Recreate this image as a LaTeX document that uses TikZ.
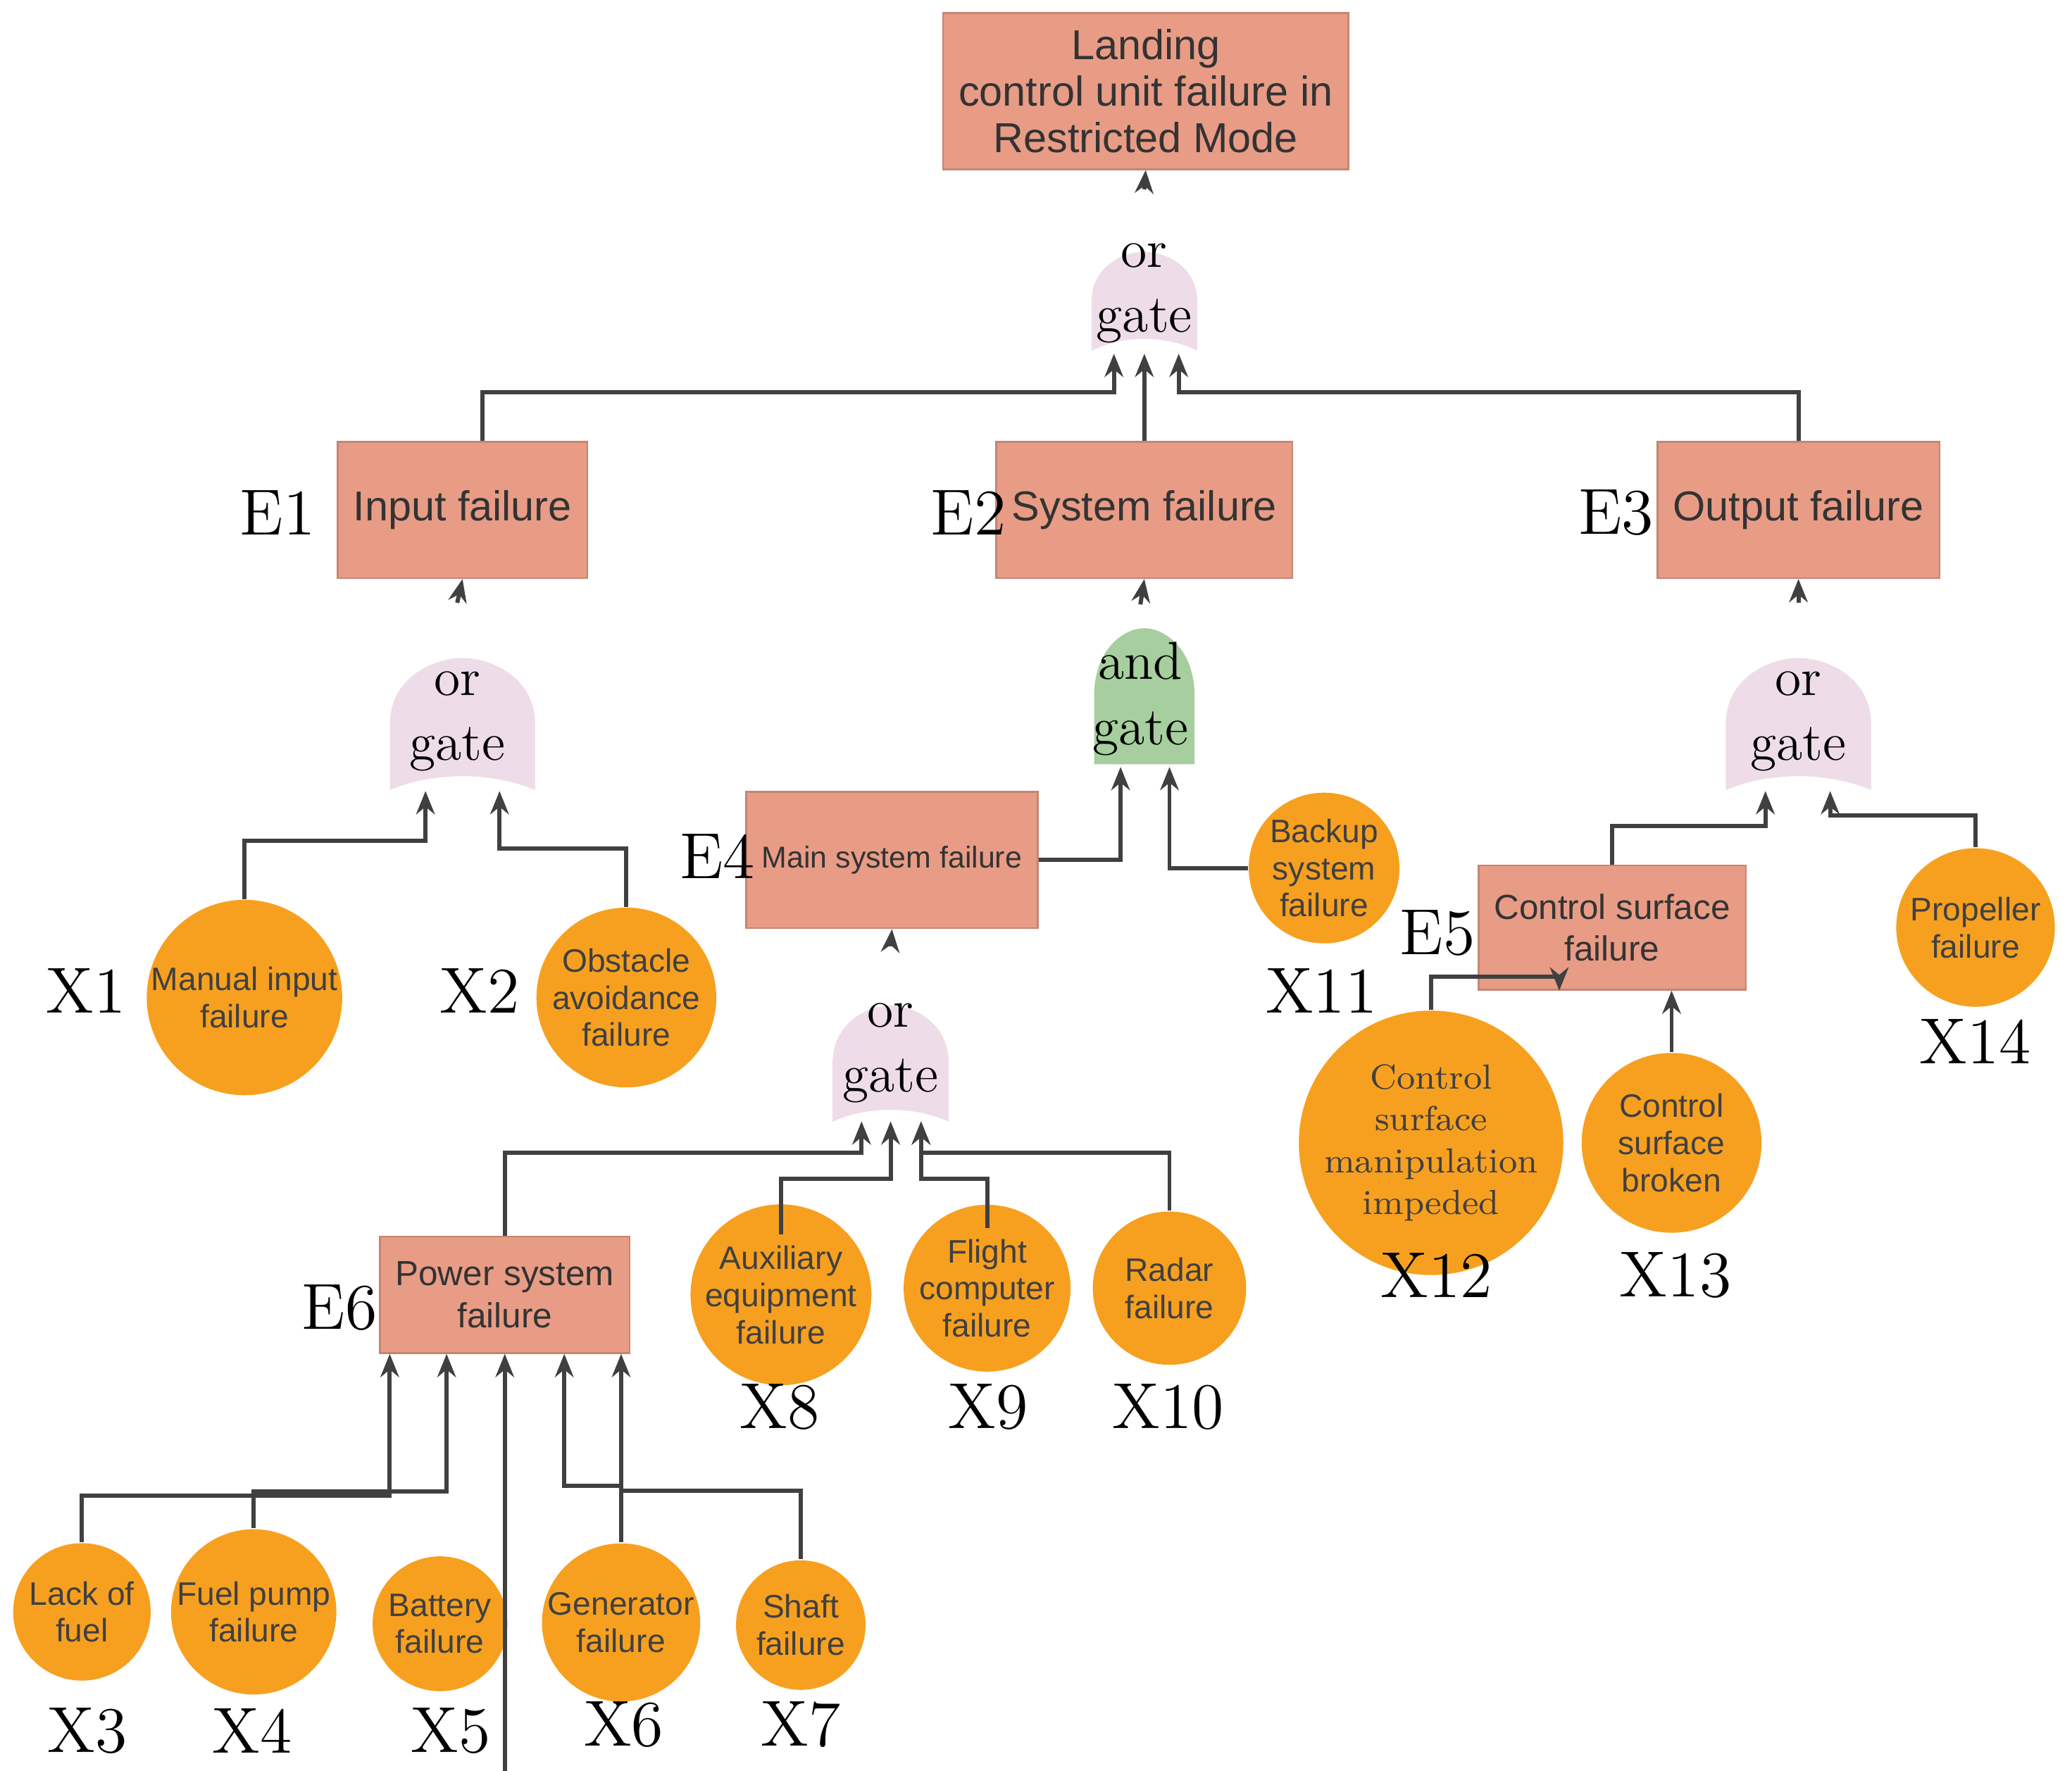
\documentclass[tikz,border=0pt]{standalone}
\usepackage{fontspec}
\newfontfamily\sansf{Liberation Sans}
\usetikzlibrary{arrows.meta}
\definecolor{boxc}{HTML}{E89C86}
\definecolor{orc}{HTML}{F7A020}
\definecolor{orgate}{HTML}{EEDDE8}
\definecolor{andgate}{HTML}{A6CE9E}
\tikzset{
  evt/.style={draw=boxc!85!black,fill=boxc,minimum width=1.88cm,minimum height=1.03cm,align=center,font=\sansf\fontsize{9}{10}\selectfont,text=black!80},
  basic/.style={circle,fill=orc,inner sep=0pt,align=center,font=\sansf\fontsize{7}{8}\selectfont,text=black!75},
  gtxt/.style={inner sep=0pt,minimum width=0.8cm,minimum height=0.8cm,align=center,font=\fontsize{11.5}{14}\selectfont},
  lbl/.style={font=\fontsize{14}{16}\selectfont},
  arr/.style={draw=black!75,line width=0.9pt,-{Stealth[length=5pt,width=4pt]}},
}
% gate outline: x, y, width, height, colour, bottom dip
\newcommand\gshape[6]{\fill[#5] ({#1-#3/2},{#2+#4/2}) -- ({#1-#3/2},{#2}) .. controls ({#1-#3/2},{#2-#4*0.35}) and ({#1-#3*0.2},{#2-#4/2}) .. ({#1},{#2-#4/2}) .. controls ({#1+#3*0.2},{#2-#4/2}) and ({#1+#3/2},{#2-#4*0.35}) .. ({#1+#3/2},{#2}) -- ({#1+#3/2},{#2+#4/2}) .. controls ({#1+#3*0.2},{#2+#4/2-#6}) and ({#1-#3*0.2},{#2+#4/2-#6}) .. cycle;}
\begin{document}
\begin{tikzpicture}[x=0.01cm,y=-0.01cm]
\useasboundingbox (0,0) rectangle (1568,1340);
% events
\node[evt,minimum width=2.9cm,minimum height=1.18cm] (top) at (867,69) {Landing\\control unit failure in\\Restricted Mode};
\node[evt] (e1) at (350,386) {Input failure};
\node[evt] (e2) at (866,386) {System failure};
\node[evt] (e3) at (1361,386) {Output failure};
\node[evt,font=\sansf\fontsize{6.5}{8}\selectfont] (e4) at (675,651) {Main system failure};
\node[evt,minimum width=1.68cm,minimum height=0.94cm,font=\sansf\fontsize{7.5}{9}\selectfont] (e5) at (1220,702) {Control surface\\failure};
\node[evt,minimum width=1.72cm,minimum height=0.88cm,font=\sansf\fontsize{7.5}{9}\selectfont] (e6) at (382,980) {Power system\\failure};
% gates
\gshape{866}{228}{80}{75}{orgate}{12}
\gshape{350}{548}{110}{100}{orgate}{14}
\gshape{866}{527}{76}{103}{andgate}{0}
\gshape{1361}{548}{110}{100}{orgate}{14}
\gshape{674}{805}{88}{88}{orgate}{12}
\node[gtxt] (g0) at (866,222) {or\\gate};
\node[gtxt] (g1) at (346,546) {or\\gate};
\node[gtxt] (g2) at (863,529) {and\\gate};
\node[gtxt] (g3) at (1361,546) {or\\gate};
\node[gtxt] (g4) at (674,797) {or\\gate};
% basic events
\node[basic,minimum size=1.36cm] (x1) at (185,755) {Manual input\\failure};
\node[basic,minimum size=1.36cm] (x2) at (474,755) {Obstacle\\avoidance\\failure};
\node[basic,minimum size=1.14cm] (x11) at (1002,657) {Backup\\system\\failure};
\node[basic,minimum size=1.2cm] (x14) at (1495,702) {Propeller\\failure};
\node[basic,minimum size=1.36cm,font=\fontsize{7.5}{9}\selectfont] (x12) at (1083,865) {Control\\surface\\manipulation\\impeded};
\node[basic,minimum size=1.36cm] (x13) at (1265,865) {Control\\surface\\broken};
\node[basic,minimum size=0.9cm,xscale=1.4] (x8) at (591,980) {};
\node[basic,font=\sansf\fontsize{7}{8}\selectfont] at (x8) {Auxiliary\\equipment\\failure};
\node[basic,minimum size=0.9cm,xscale=1.12] (x9) at (747,975) {};
\node[basic] at (x9) {Flight\\computer\\failure};
\node[basic,minimum size=1.16cm] (x10) at (885,975) {Radar\\failure};
\node[basic,minimum size=1.04cm] (x3) at (62,1220) {Lack of\\fuel};
\node[basic,minimum size=1.2cm] (x4) at (192,1220) {Fuel pump\\failure};
\node[basic,minimum size=1.02cm] (x5) at (333,1229) {Battery\\failure};
\node[basic,minimum size=1.06cm] (x6) at (470,1228) {Generator\\failure};
\node[basic,minimum size=0.98cm] (x7) at (606,1230) {Shaft\\failure};
% labels
\foreach \t/\p in {E1/{210,388},E2/{733,388},E3/{1223,388},E4/{543,648},E5/{1088,706},E6/{257,990},
  X1/{65,750},X2/{363,750},X11/{1000,750},X14/{1495,788},X12/{1087,965},X13/{1268,965},
  X8/{590,1065},X9/{748,1065},X10/{884,1065},X3/{66,1310},X4/{191,1310},X5/{341,1310},X6/{472,1305},X7/{606,1305}}
  \node[lbl] at (\p) {\t};
% connectors
\draw[arr] (g0.north) ++(0,-38) -- (top.south);
\draw[arr] (e1.north -| 365,0) |- ++(0,-37) -| ([xshift=-0.23cm,yshift=-0.05cm]g0.south);
\draw[arr] (e2.north) -- ([yshift=-0.05cm]g0.south);
\draw[arr] (e3.north) |- ++(0,-37) -| ([xshift=0.26cm,yshift=-0.05cm]g0.south);
\draw[arr] ([yshift=0.49cm]g1.north) -- (e1.south);
\draw[arr] ([yshift=0.28cm]g2.north) -- (e2.south);
\draw[arr] ([yshift=0.49cm]g3.north) -- (e3.south);
\draw[arr] ([yshift=0.4cm]g4.north) -- (e4.south);
\draw[arr] (x1.north) |- ++(0,-44) -| ([xshift=-0.24cm,yshift=-0.12cm]g1.south);
\draw[arr] (x2.north) |- ++(0,-44) -| ([xshift=0.32cm,yshift=-0.12cm]g1.south);
\draw[arr] (e4.east) -| ([xshift=-0.15cm,yshift=-0.08cm]g2.south);
\draw[arr] (x11.west) -| ([xshift=0.22cm,yshift=-0.08cm]g2.south);
\draw[arr] (e5.north) |- ++(0,-29) -| ([xshift=-0.25cm,yshift=-0.12cm]g3.south);
\draw[arr] (x14.north) |- ++(0,-24) -| ([xshift=0.24cm,yshift=-0.12cm]g3.south);
\draw[arr] (x12.north) |- ++(0,-25) -| ([xshift=-0.4cm]e5.south);
\draw[arr] (x13.north) -- (x13.north |- e5.south);
\draw[arr] (e6.north) |- ++(0,-63) -| ([xshift=-0.22cm,yshift=-0.11cm]g4.south);
\draw[arr] (x8.north) |- ++(0,-42) -| ([yshift=-0.11cm]g4.south);
\draw[arr] (x9.north) |- ++(0,-37) -| ([xshift=0.23cm,yshift=-0.11cm]g4.south);
\draw[arr] (x10.north) |- ++(0,-44) -| ([xshift=0.23cm,yshift=-0.11cm]g4.south);
\draw[arr] (x3.north) |- ++(0,-35) -| ([xshift=-0.87cm]e6.south);
\draw[arr] (x4.north) |- ++(0,-28) -| ([xshift=-0.44cm]e6.south);
\draw[arr] (x5.north -| 343,0) ++(0,1175) |- ++(0,-45) -| (e6.south);
\draw[arr] (x6.north) |- ++(0,-43) -| ([xshift=0.45cm]e6.south);
\draw[arr] (x7.north) |- ++(0,-52) -| ([xshift=0.88cm]e6.south);
\end{tikzpicture}
\end{document}
